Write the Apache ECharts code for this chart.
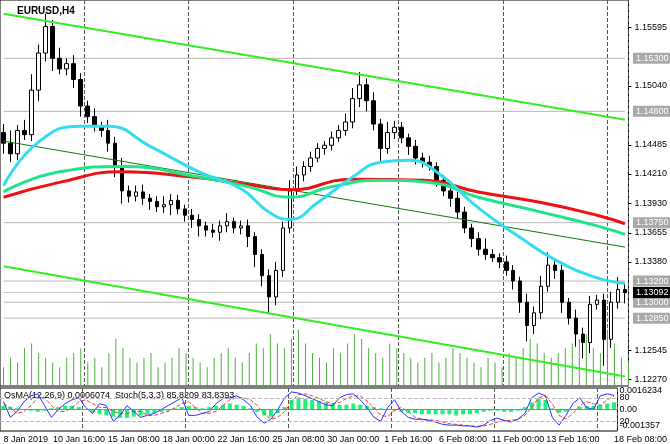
<!DOCTYPE html><html><head><meta charset="utf-8">
<script src="https://cdn.jsdelivr.net/npm/echarts@6/dist/echarts.min.js"></script>
<style>html,body{margin:0;background:#fff}#c{width:670px;height:444px}</style></head><body><div id="c"></div>
<script>
const firstOpen = 1.1460;
const closes = [1.1450,1.1440,1.1462,1.1458,1.1500,1.1535,1.1560,1.1530,1.1520,1.1525,1.1510,1.1485,1.1475,1.1466,1.1462,1.1450,1.1428,1.1405,1.1400,1.1404,1.1398,1.1395,1.1390,1.1392,1.1396,1.1388,1.1382,1.1378,1.1372,1.1368,1.1366,1.1372,1.1376,1.1370,1.1372,1.1362,1.1345,1.1325,1.1305,1.1330,1.1370,1.1405,1.1420,1.1428,1.1436,1.1445,1.1448,1.1455,1.1462,1.1470,1.1492,1.1505,1.1490,1.1468,1.1445,1.1460,1.1465,1.1455,1.1447,1.1436,1.1432,1.1428,1.1415,1.1405,1.1398,1.1385,1.1370,1.1360,1.1350,1.1345,1.1342,1.1338,1.1330,1.1320,1.1300,1.1278,1.1290,1.1315,1.1335,1.1330,1.1300,1.1285,1.1270,1.1262,1.1298,1.1302,1.1265,1.1300,1.1312,1.1309];
const wickHi = [8,12,5,10,15,8,12,6,10,5,8,6,5,8,4,10,6,8,5,6,7,4,5,8,6,5,4,6,5,4,6,5,8,4,5,6,4,5,6,8,6,10,8,5,6,5,4,6,5,8,10,12,6,8,5,10,6,5,4,6,5,6,4,5,4,6,5,4,6,10,5,4,6,5,4,8,6,10,12,6,5,4,8,6,8,5,6,10,12,6];
const wickLo = [10,8,6,5,6,10,8,12,5,6,8,10,6,5,6,8,10,12,6,5,6,8,5,6,10,5,6,8,10,6,5,8,6,5,6,10,12,10,15,8,6,5,4,6,5,4,6,5,4,5,6,8,10,6,12,5,6,5,8,6,5,4,6,5,8,6,5,8,6,5,4,6,5,8,10,15,8,6,5,8,10,6,12,15,10,5,25,8,6,10];
const volumes = [20,30,25,40,45,35,30,25,20,30,35,40,25,30,20,35,50,40,30,25,30,35,20,25,30,40,35,30,25,20,30,35,40,30,25,35,45,40,55,45,40,50,60,45,35,30,25,40,35,45,55,50,40,35,30,45,40,35,30,25,30,35,25,30,40,35,30,25,20,30,25,20,35,30,40,50,45,35,30,35,40,45,50,55,40,35,60,45,30,25];
const osma = [3,2,1,0,-1,-2,-1,1,2,3,3,2,0,-2,-4,-5,-6,-7,-7,-6,-5,-4,-3,-2,-1,1,2,3,2,1,2,3,4,5,4,3,1,-2,-5,-6,-3,2,8,10,9,8,7,6,5,4,4,5,4,3,2,1,0,-1,-2,-3,-3,-4,-4,-4,-4,-4,-5,-4,-4,-3,-2,-1,-1,-2,-2,-1,2,6,9,8,1,-3,-2,0,2,3,3,4,5,6];
const stochK = [70,30,45,70,85,90,60,30,50,65,75,80,55,40,65,60,20,35,60,45,30,35,40,50,60,70,80,35,35,40,45,65,78,80,85,75,60,30,15,25,50,80,95,92,85,78,70,62,60,80,88,90,75,55,30,20,55,75,45,30,25,25,22,18,12,10,10,8,8,5,10,22,28,22,18,25,40,80,92,85,30,10,35,65,80,55,50,85,90,86];
const stochD = [65,55,40,45,60,80,80,60,45,45,55,70,75,65,55,55,45,40,40,45,45,35,35,40,45,55,65,70,55,40,40,45,60,75,80,80,75,60,40,25,30,45,70,88,90,85,78,70,65,68,78,85,85,72,55,35,32,48,55,45,30,25,24,22,18,14,12,10,8,7,8,12,18,22,22,25,35,55,80,85,65,35,25,40,60,70,65,60,75,84];
const maRed = [[0,1.1399],[8,1.1413],[17,1.1423],[27,1.1418],[35,1.1411],[41,1.1406],[50,1.1416],[60,1.1415],[68,1.1404],[77,1.1394],[85,1.1382],[89,1.1374]];
const maGreen = [[0,1.1404],[8,1.1423],[17,1.1428],[28,1.1418],[35,1.1409],[41,1.1399],[47,1.1409],[54,1.1415],[61,1.1413],[68,1.1399],[77,1.1385],[85,1.1372],[89,1.1364]];
const maCyan = [[0,1.1410],[5,1.1451],[11,1.1466],[15,1.1466],[21,1.1447],[28,1.1423],[34,1.1407],[38,1.1385],[41,1.1378],[45,1.1394],[50,1.1418],[54,1.1432],[58,1.1434],[62,1.1423],[68,1.1389],[74,1.1361],[79,1.1340],[85,1.1323],[89,1.1318]];
const chanUpper = [[0,1.1572],[89,1.1472]];
const chanMid = [[0,1.1452],[89,1.1352]];
const chanLower = [[0,1.1334],[89,1.1230]];
const levels = [1.1530,1.1480,1.1375,1.1320,1.1300,1.1285];
const lastPrice = 1.13092;
const priceTicks = [1.15595,1.15040,1.14485,1.14210,1.13930,1.13655,1.13380,1.12545,1.12270];
const dateLabels = {0:'8 Jan 2019',11:'10 Jan 16:00',19:'15 Jan 08:00',27:'18 Jan 00:00',35:'22 Jan 16:00',43:'25 Jan 08:00',51:'30 Jan 00:00',59:'1 Feb 16:00',67:'6 Feb 08:00',75:'11 Feb 00:00',83:'13 Feb 16:00',89:'18 Feb 08:00'};
const separators = [12,27,42,57,72,87];

const cats = closes.map((c,i)=>dateLabels[i]||'');
const ohlc = closes.map((c,i)=>{const o=i?closes[i-1]:firstOpen;return [o,c,Math.min(o,c)-wickLo[i]/10000,Math.max(o,c)+wickHi[i]/10000];});
const F='Liberation Sans';
const last = closes.length-1;
function levelSeries(v,bg,lc){
  return {type:'line',data:[[0,v],[last,v]],symbol:'none',silent:true,z:1,lineStyle:{color:lc,width:1},
    endLabel:{show:true,formatter:v.toFixed(5),backgroundColor:bg,color:'#fff',fontSize:9,padding:[1,3],distance:8,fontFamily:F}};
}
const chart = echarts.init(document.getElementById('c'));
chart.setOption({
  animation:false, backgroundColor:'#fff',
  textStyle:{fontFamily:F},
  title:{text:'EURUSD,H4',left:12,top:1,textStyle:{fontSize:10,fontWeight:'bold',color:'#000',fontFamily:F}},
  grid:[{left:0,right:38,top:0,height:386,show:true,borderColor:'#000'},
        {left:0,right:38,top:320,height:66},
        {left:0,right:38,top:388,height:43,show:true,borderColor:'#000'}],
  xAxis:[
    {type:'category',data:cats,gridIndex:0,axisLine:{show:false},axisTick:{show:false},axisLabel:{show:false},
     splitLine:{show:true,interval:(i)=>separators.includes(i),lineStyle:{color:'#555',type:'dashed'}}},
    {type:'category',data:cats,gridIndex:1,show:false},
    {type:'category',data:cats,gridIndex:2,axisLine:{show:false},axisTick:{show:false},
     splitLine:{show:true,interval:(i)=>separators.includes(i),lineStyle:{color:'#555',type:'dashed'}},
     axisLabel:{interval:0,fontSize:9,color:'#000',margin:4,alignMinLabel:'left',alignMaxLabel:'left',fontFamily:F}}],
  yAxis:[
    {type:'value',gridIndex:0,position:'right',min:1.1221,max:1.1585,splitLine:{show:false},axisLine:{show:false},
     axisTick:{show:true,customValues:priceTicks,length:3,lineStyle:{color:'#000'}},
     axisLabel:{customValues:priceTicks,formatter:v=>v.toFixed(5),fontSize:9,color:'#000',margin:6,fontFamily:F}},
    {type:'value',gridIndex:1,show:false,min:0,max:70},
    {type:'value',gridIndex:2,position:'right',min:-0.0018,max:0.0018,splitLine:{show:false},axisLine:{show:false},axisTick:{show:false},
     axisLabel:{customValues:[0.0016234,0,-0.001357],formatter:v=>v>0?'0.0016234':(v<0?'-0.001357':'0.00'),fontSize:9,color:'#000',margin:2,fontFamily:F}},
    {type:'value',gridIndex:2,position:'right',min:-5,max:105,show:true,splitLine:{show:false},axisLine:{show:false},axisTick:{show:false},
     axisLabel:{customValues:[80,20],fontSize:9,color:'#000',margin:2,fontFamily:F}}],
  series:[
    {type:'bar',xAxisIndex:1,yAxisIndex:1,data:volumes,barWidth:1,itemStyle:{color:'#4caf3c'},silent:true},
    ...levels.map(v=>levelSeries(v,'#a8a8a8','#b8b8b8')),
    levelSeries(lastPrice,'#000','#c8c8c8'),
    {type:'line',data:chanUpper,symbol:'none',lineStyle:{color:'#33ee22',width:2}},
    {type:'line',data:chanMid,symbol:'none',lineStyle:{color:'#117711',width:1}},
    {type:'line',data:chanLower,symbol:'none',lineStyle:{color:'#33ee22',width:2}},
    {type:'line',data:maRed,smooth:true,symbol:'none',lineStyle:{color:'#ee1111',width:3}},
    {type:'line',data:maGreen,smooth:true,symbol:'none',lineStyle:{color:'#22e28a',width:3}},
    {type:'line',data:maCyan,smooth:true,symbol:'none',lineStyle:{color:'#33ddf0',width:3}},
    {type:'candlestick',data:ohlc,barWidth:4,
     itemStyle:{color:'#fff',color0:'#000',borderColor:'#000',borderColor0:'#000',borderWidth:1}},
    {type:'bar',xAxisIndex:2,yAxisIndex:2,data:osma.map(v=>v/10000),barWidth:4,itemStyle:{color:'#22f07a'},
     markLine:{symbol:'none',silent:true,label:{show:false},data:[{yAxis:0}],lineStyle:{color:'#888',type:'solid'}}},
    {type:'line',xAxisIndex:2,yAxisIndex:3,data:stochD,symbol:'none',lineStyle:{color:'#ff3333',width:1,type:'dashed'},
     markLine:{symbol:'none',silent:true,label:{show:false},data:[{yAxis:80},{yAxis:20}],lineStyle:{color:'#bbb',type:'dashed'}}},
    {type:'line',xAxisIndex:2,yAxisIndex:3,data:stochK,symbol:'none',lineStyle:{color:'#2233ff',width:1}}
  ],
  graphic:[{type:'text',left:4,top:391,style:{text:'OsMA(12,26,9) 0.0006074  Stoch(5,3,3) 85.8209 83.8393',fontSize:9,fill:'#000',fontFamily:F}}]
});
</script></body></html>
